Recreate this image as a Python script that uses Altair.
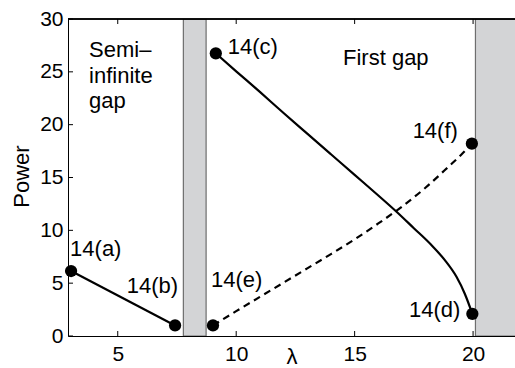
import altair as alt
import pandas as pd

# Semi-infinite gap branch (solid)
left_lam = [3.03, 7.42]
left_pow = [6.15, 1.0]

# First gap, upper branch (solid)
upper_lam = [9.14, 10.0, 11.0, 12.0, 13.0, 14.0, 15.0, 16.0, 16.77, 17.5, 18.2, 18.8, 19.3, 19.65, 19.97]
upper_pow = [26.75, 25.05, 23.1, 21.1, 19.15, 17.2, 15.25, 13.3, 11.76, 10.2, 8.7, 7.2, 5.6, 4.0, 2.1]

# First gap, lower branch (dashed)
lower_lam = [9.02, 10.0, 11.0, 12.0, 13.0, 14.0, 15.0, 16.0, 17.0, 18.0, 19.0, 19.5, 19.95]
lower_pow = [1.0, 2.35, 3.7, 5.05, 6.4, 7.75, 9.15, 10.65, 12.25, 14.05, 16.1, 17.15, 18.2]

# Labelled solutions
pt_names = ["14(a)", "14(b)", "14(c)", "14(d)", "14(e)", "14(f)"]
pt_lam = [3.03, 7.42, 9.14, 19.97, 9.02, 19.95]
pt_pow = [6.15, 1.0, 26.75, 2.1, 1.0, 18.2]

# Bloch bands (shaded)
band_lo = [7.77, 20.1]
band_hi = [8.73, 22.0]

x_ticks = [5, 10, 15, 20]
y_ticks = [0, 5, 10, 15, 20, 25, 30]

W, H = 447, 317
FONT = "Liberation Sans"

xs = alt.Scale(domain=[2.9, 21.77], nice=False, zero=False)
ys = alt.Scale(domain=[0, 30], nice=False)

bands = pd.DataFrame({"lo": band_lo, "hi": band_hi})
left_df = pd.DataFrame({"lam": left_lam, "pow": left_pow, "i": range(len(left_lam))})
upper_df = pd.DataFrame({"lam": upper_lam, "pow": upper_pow, "i": range(len(upper_lam))})
lower_df = pd.DataFrame({"lam": lower_lam, "pow": lower_pow, "i": range(len(lower_lam))})
pts = pd.DataFrame({"name": pt_names, "lam": pt_lam, "pow": pt_pow})
xt = pd.DataFrame({"t": x_ticks})
yt = pd.DataFrame({"t": y_ticks})

x_axis = alt.Axis(
    values=x_ticks, ticks=False, grid=False, domainColor="black", domainWidth=1,
    labelFont=FONT, labelFontSize=21, labelColor="black", labelPadding=7,
    title="λ", titleFont=FONT, titleFontSize=22, titleFontWeight="normal",
    titleColor="black", titleY=27, titleBaseline="alphabetic",
)
y_axis = alt.Axis(
    values=y_ticks, ticks=False, grid=False, domainColor="black", domainWidth=1,
    labelFont=FONT, labelFontSize=21, labelColor="black", labelPadding=5,
    title="Power", titleFont=FONT, titleFontSize=22, titleFontWeight="normal",
    titleColor="black", titleAngle=270, titleX=-40, titleY=157,
    titleBaseline="alphabetic", titleAlign="center",
)


def X(field):
    return alt.X(field, scale=xs, axis=x_axis)


def Y(field):
    return alt.Y(field, scale=ys, axis=y_axis)


band_layer = alt.Chart(bands).mark_rect(
    fill="#d3d4d6", stroke="#6e6e6e", strokeWidth=1.2, clip=True
).encode(
    x=X("lo:Q"),
    x2="hi:Q",
    y=alt.value(0),
    y2=alt.value(H),
)


def branch(df, dash=None):
    kw = dict(color="black", strokeWidth=2.2, interpolate="monotone")
    if dash:
        kw["strokeDash"] = dash
    return alt.Chart(df).mark_line(**kw).encode(
        x=X("lam:Q"), y=Y("pow:Q"), order="i:Q",
    )


left_line = branch(left_df)
upper_line = branch(upper_df)
lower_line = branch(lower_df, dash=[7, 5])

dots = alt.Chart(pts).mark_circle(size=150, color="black", opacity=1).encode(
    x=X("lam:Q"), y=Y("pow:Q"),
)

# per-label placement relative to its dot
label_style = {
    "14(a)": dict(align="left", dx=-1, dy=-15),
    "14(b)": dict(align="right", dx=3, dy=-32),
    "14(c)": dict(align="left", dx=12, dy=1),
    "14(d)": dict(align="right", dx=-12, dy=3),
    "14(e)": dict(align="left", dx=-2, dy=-38),
    "14(f)": dict(align="right", dx=-14, dy=-6),
}
labels = []
for name, st in label_style.items():
    labels.append(
        alt.Chart(pts).transform_filter(alt.datum.name == name).mark_text(
            font=FONT, fontSize=22, color="black", baseline="alphabetic", **st
        ).encode(x=X("lam:Q"), y=Y("pow:Q"), text="name:N")
    )

region_df = pd.DataFrame({
    "lam": [3.79, 14.51],
    "pow": [26.4, 25.6],
    "txt": ["Semi–\ninfinite\ngap", "First gap"],
})
regions = alt.Chart(region_df).mark_text(
    font=FONT, fontSize=22, color="black", align="left", baseline="alphabetic",
    lineBreak="\n", lineHeight=25.5,
).encode(x=X("lam:Q"), y=Y("pow:Q"), text="txt:N")

# inward-pointing ticks on bottom, top and left edges
tick_len = 5
bottom_ticks = alt.Chart(xt).mark_rule(color="black", strokeWidth=1).encode(
    x=X("t:Q"), y=alt.value(H), y2=alt.value(H - tick_len)
)
top_ticks = alt.Chart(xt).mark_rule(color="black", strokeWidth=1).encode(
    x=X("t:Q"), y=alt.value(0), y2=alt.value(tick_len)
)
left_ticks = alt.Chart(yt).mark_rule(color="black", strokeWidth=1).encode(
    y=Y("t:Q"), x=alt.value(0), x2=alt.value(tick_len)
)
top_border = alt.Chart(xt).mark_rule(color="black", strokeWidth=1).encode(
    x=alt.value(0), x2=alt.value(W), y=alt.value(0)
)

chart = alt.layer(
    band_layer, left_line, upper_line, lower_line, dots, *labels, regions,
    bottom_ticks, top_ticks, left_ticks, top_border,
).properties(
    width=W, height=H,
    autosize=alt.AutoSizeParams(type="none"),
    padding={"left": 68, "top": 19, "right": 0, "bottom": 32},
    background="white",
).configure_view(stroke=None)

chart.save("out.html", embed_options={"renderer": "svg", "actions": False})
